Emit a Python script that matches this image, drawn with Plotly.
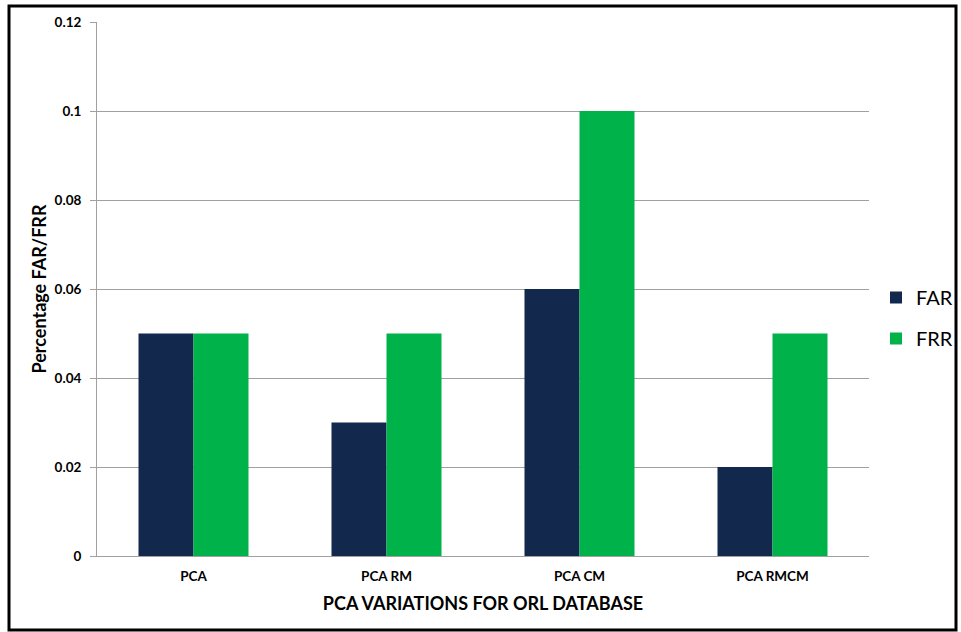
import plotly.graph_objects as go

categories = ["PCA", "PCA RM", "PCA CM", "PCA RMCM"]
far_values = [0.05, 0.03, 0.06, 0.02]
frr_values = [0.05, 0.05, 0.10, 0.05]
y_ticks = [0, 0.02, 0.04, 0.06, 0.08, 0.1, 0.12]
y_tick_text = ["0", "0.02", "0.04", "0.06", "0.08", "0.1", "0.12"]

FONT = "Lato, 'Open Sans', sans-serif"

fig = go.Figure()
fig.add_trace(go.Bar(x=categories, y=far_values, name="FAR", legendgroup="a",
                     marker=dict(color="#13284d", line=dict(width=0))))
fig.add_trace(go.Bar(x=categories, y=frr_values, name="FRR", legendgroup="b",
                     marker=dict(color="#00b24a", line=dict(width=0))))

W, H = 961, 632
L, R, T, B = 97, 92, 22, 76
pw, ph = W - L - R, H - T - B

def px_x(p):
    return (p - L) / pw

def px_y(p):
    return (H - B - p) / ph

fig.add_shape(type="rect", xref="paper", yref="paper",
              x0=px_x(9), x1=px_x(956), y0=px_y(630), y1=px_y(6),
              line=dict(color="black", width=3), fillcolor="rgba(0,0,0,0)", layer="above")

fig.update_layout(
    width=W, height=H, autosize=False,
    margin=dict(l=L, r=R, t=T, b=B, autoexpand=False),
    paper_bgcolor="white", plot_bgcolor="white",
    barmode="group", bargap=0.43, bargroupgap=0,
    font=dict(family=FONT, color="black"),
    showlegend=True,
    legend=dict(x=px_x(876), y=px_y(278), xanchor="left", yanchor="top",
                font=dict(size=20, family=FONT), traceorder="grouped",
                tracegroupgap=12, itemsizing="constant", bgcolor="rgba(0,0,0,0)"),
    xaxis=dict(showline=True, linecolor="#a0a0a0", linewidth=1, ticks="",
               tickfont=dict(size=13.5, family=FONT, weight="bold"),
               ticklabelstandoff=8,
               title=dict(text="PCA VARIATIONS FOR ORL DATABASE",
                          font=dict(size=18, family=FONT, weight="bold"), standoff=14)),
    yaxis=dict(range=[0, 0.12], tickvals=y_ticks, ticktext=y_tick_text,
               showgrid=True, gridcolor="#a0a0a0", gridwidth=1,
               showline=True, linecolor="#a0a0a0", linewidth=1,
               ticks="outside", ticklen=6, tickcolor="#a0a0a0",
               tickfont=dict(size=13.5, family=FONT, weight="bold"),
               ticklabelstandoff=6,
               zeroline=False,
               title=dict(text="Percentage FAR/FRR",
                          font=dict(size=18, family=FONT, weight="bold"), standoff=3)),
)

post = (
    "document.documentElement.style.overflow='hidden';"
    "document.body.style.margin='0';document.body.style.overflow='hidden';"
)

fig.write_html("out.html",
               config={"displayModeBar": False},
               post_script=post)
